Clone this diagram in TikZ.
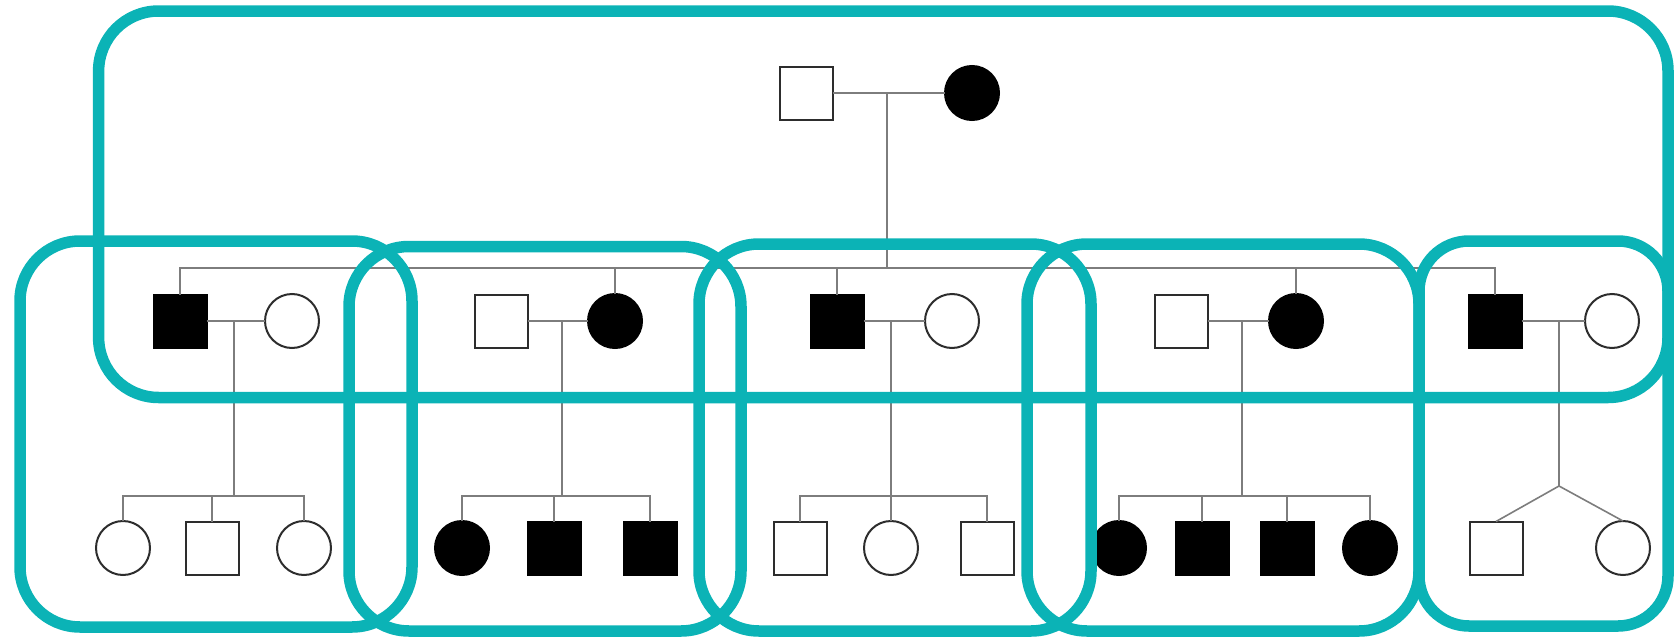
\documentclass[tikz,border=0pt]{standalone}
\definecolor{grpteal}{RGB}{11,179,182}
\definecolor{symline}{RGB}{45,45,45}
\definecolor{linkgray}{RGB}{125,125,125}
\begin{document}
\begin{tikzpicture}[x=1pt,y=-1pt,
  sym/.style={draw=symline, line width=2pt, fill=white, inner sep=0pt, outer sep=0pt},
  male/.style={sym, rectangle, minimum size=53pt},
  female/.style={sym, circle, minimum size=54pt},
  aff/.style={fill=black, draw=black},
  link/.style={draw=linkgray, line width=1.6pt},
  group/.style={draw=grpteal, line width=11.5pt, rounded corners=#1},
  group/.default=60pt,
]
\useasboundingbox (0,0) rectangle (1674,637);

% ---------- generation I ----------
\node[male]        (g1m) at (806,93) {};
\node[female, aff] (g1f) at (972,93) {};
\coordinate (m0) at (887,93);
\coordinate (s0) at (887,268);

% ---------- generation II ----------
\node[male, aff]   (p1m) at (180,321) {};
\node[female]      (p1f) at (292,321) {};
\node[male]        (p2m) at (501,321) {};
\node[female, aff] (p2f) at (615,321) {};
\node[male, aff]   (p3m) at (837,321) {};
\node[female]      (p3f) at (952,321) {};
\node[male]        (p4m) at (1181,321) {};
\node[female, aff] (p4f) at (1296,321) {};
\node[male, aff]   (p5m) at (1495,321) {};
\node[female]      (p5f) at (1612,321) {};

\coordinate (m1) at (234,321);
\coordinate (m2) at (562,321);
\coordinate (m3) at (891,321);
\coordinate (m4) at (1242,321);
\coordinate (m5) at (1559,321);

\coordinate (k1) at (234,496);
\coordinate (k2) at (562,496);
\coordinate (k3) at (891,496);
\coordinate (k4) at (1242,496);
\coordinate (t5) at (1559,486);

% ---------- generation III ----------
\node[female]      (c11) at (123,548) {};
\node[male]        (c12) at (212,548) {};
\node[female]      (c13) at (304,548) {};

\node[female, aff] (c21) at (462,548) {};
\node[male, aff]   (c22) at (554,548) {};
\node[male, aff]   (c23) at (650,548) {};

\node[male]        (c31) at (800,548) {};
\node[female]      (c32) at (891,548) {};
\node[male]        (c33) at (987,548) {};

\node[female, aff] (c41) at (1119,548) {};
\node[male, aff]   (c42) at (1202,548) {};
\node[male, aff]   (c43) at (1287,548) {};
\node[female, aff] (c44) at (1370,548) {};

\node[male]        (c51) at (1496,548) {};
\node[female]      (c52) at (1623,548) {};

% ---------- pedigree lines ----------
\begin{scope}[link]
  % founding couple and their sibship
  \draw (g1m) -- (g1f);
  \draw (m0) -- (s0);
  \draw (p1m) |- (s0) -| (p5m);
  \draw (p2f) -- (p2f |- s0);
  \draw (p3m) -- (p3m |- s0);
  \draw (p4f) -- (p4f |- s0);

  % second-generation couples
  \draw (p1m) -- (p1f);
  \draw (p2m) -- (p2f);
  \draw (p3m) -- (p3f);
  \draw (p4m) -- (p4f);
  \draw (p5m) -- (p5f);

  % family 1
  \draw (m1) -- (k1);
  \draw (c11) |- (k1) -| (c13);
  \draw (c12) -- (c12 |- k1);
  % family 2
  \draw (m2) -- (k2);
  \draw (c21) |- (k2) -| (c23);
  \draw (c22) -- (c22 |- k2);
  % family 3
  \draw (m3) -- (k3);
  \draw (c31) |- (k3) -| (c33);
  \draw (c32) -- (k3);
  % family 4
  \draw (m4) -- (k4);
  \draw (c41) |- (k4) -| (c44);
  \draw (c42) -- (c42 |- k4);
  \draw (c43) -- (c43 |- k4);
  % family 5: twins
  \draw (m5) -- (t5);
  \draw (c51.north) -- (t5) -- (c52.north);
\end{scope}

% ---------- groupings ----------
\draw[group] (98.6,11) rectangle (1668,397.5);
\draw[group] (20,241) rectangle (412,627);
\draw[group] (349,246.5) rectangle (741,631);
\draw[group] (699,244) rectangle (1091,631);
\draw[group] (1027,244) rectangle (1419,631);
\draw[group=50pt] (1419,241) rectangle (1668,626);
\end{tikzpicture}
\end{document}
